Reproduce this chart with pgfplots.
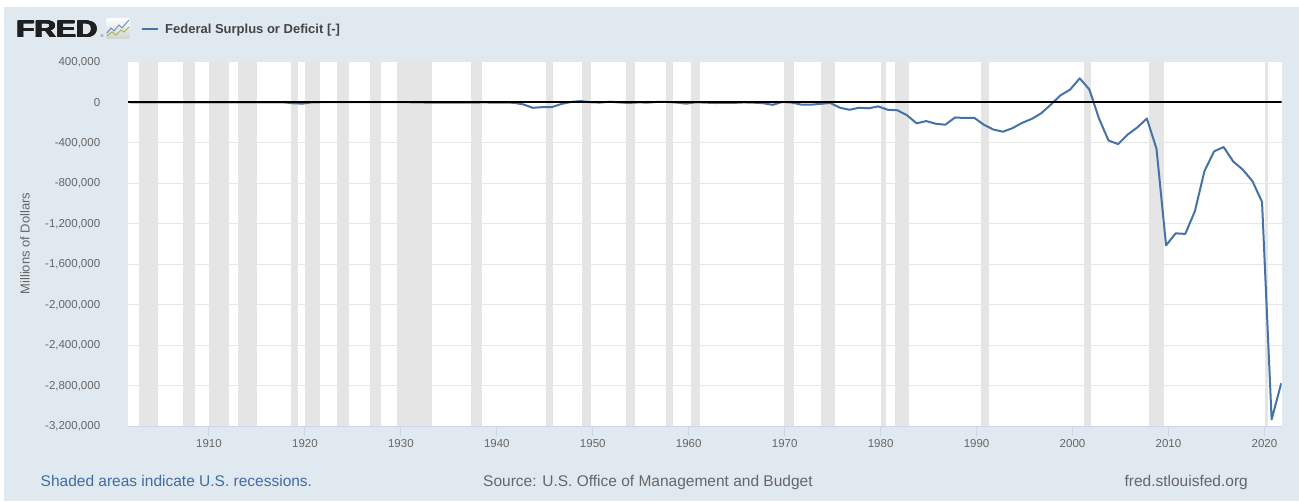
\documentclass[border=0pt]{standalone}
\usepackage{pgfplots}
\pgfplotsset{compat=1.18}
\usepackage{pgfplotstable}
\usepackage{graphicx}
\usepackage{fontspec}
\setmainfont{Liberation Sans}

\definecolor{fredbg}{HTML}{E1E9F0}
\definecolor{recgray}{HTML}{E5E5E5}
\definecolor{gridc}{HTML}{E6E6E6}
\definecolor{tickc}{HTML}{CCD6EB}
\definecolor{lblc}{HTML}{666666}
\definecolor{titlec}{HTML}{444444}
\definecolor{fredline}{HTML}{4572A7}
\definecolor{linkc}{HTML}{3E6DA6}
\definecolor{icongreen}{HTML}{8DBE4A}

% fiscal year, surplus (+) or deficit (-), millions of dollars
\pgfplotstableread{
year value
1901 63
1902 77
1903 45
1904 -43
1905 -23
1906 25
1907 87
1908 -57
1909 -89
1910 -18
1911 11
1912 3
1913 0
1914 0
1915 -63
1916 48
1917 -853
1918 -9032
1919 -13363
1920 291
1921 509
1922 736
1923 713
1924 963
1925 717
1926 865
1927 1155
1928 939
1929 734
1930 738
1931 -462
1932 -2735
1933 -2602
1934 -3630
1935 -2791
1936 -4425
1937 -2777
1938 -1177
1939 -3862
1940 -2920
1941 -4941
1942 -20503
1943 -54554
1944 -47557
1945 -47553
1946 -15936
1947 4018
1948 11796
1949 580
1950 -3119
1951 6102
1952 -1519
1953 -6493
1954 -1154
1955 -2993
1956 3947
1957 3412
1958 -2769
1959 -12849
1960 301
1961 -3335
1962 -7146
1963 -4756
1964 -5915
1965 -1411
1966 -3698
1967 -8643
1968 -25161
1969 3242
1970 -2842
1971 -23033
1972 -23373
1973 -14908
1974 -6135
1975 -53242
1976 -73732
1977 -53659
1978 -59185
1979 -40726
1980 -73830
1981 -78968
1982 -127977
1983 -207802
1984 -185367
1985 -212308
1986 -221227
1987 -149730
1988 -155178
1989 -152639
1990 -221036
1991 -269238
1992 -290321
1993 -255051
1994 -203186
1995 -163952
1996 -107431
1997 -21884
1998 69270
1999 125610
2000 236241
2001 128236
2002 -157758
2003 -377585
2004 -412727
2005 -318346
2006 -248181
2007 -160701
2008 -458553
2009 -1412688
2010 -1294373
2011 -1299599
2012 -1076573
2013 -679775
2014 -484602
2015 -441960
2016 -584651
2017 -665446
2018 -779137
2019 -983598
2020 -3132460
2021 -2775306
}\fyfsd

\begin{document}
\begin{tikzpicture}
\begin{scope}[x=1pt,y=1pt]
\useasboundingbox (0,0) rectangle (1299,501);
\fill[white] (0,0) rectangle (1299,501);
\fill[fredbg] (4,0) rectangle (1299,494);

% header: logo (text drawn a few times, slightly offset, to make it heavier) and legend
\foreach \dx/\dy in {0/0, 0.7/0, 1.4/0, 0/0.5, 0.7/0.5, 1.4/0.5}{
  \node[anchor=base west, inner sep=0, font=\fontsize{24}{24}\selectfont\bfseries, text=black!88]
    at (15.5+\dx,463+\dy) {\scalebox{1.24}[1]{FRED}};
}
\node[anchor=base west, inner sep=0, font=\fontsize{4}{4}\selectfont, text=black!70] at (100.5,463.5) {\textregistered};
\shade[top color=white, bottom color=black!18, rounded corners=2pt] (106,462) rectangle (130,483);
\draw[fredline!80, line width=0.9pt] (107,468) -- (111,473) -- (114,470) -- (119,476) -- (122,473) -- (129,481);
\draw[icongreen, line width=0.9pt] (107,465) -- (112,469) -- (116,466) -- (121,471) -- (124,469) -- (129,474);
\draw[fredline, line width=2pt] (141.7,472) -- (158.3,472);
\node[anchor=base west, inner sep=0, font=\fontsize{13}{13}\selectfont\bfseries, text=titlec]
  at (165,467.7) {Federal Surplus or Deficit [-]};
\end{scope}

\begin{axis}[
  at={(127.7pt,74.7pt)}, anchor=south west,
  scale only axis, width=1154pt, height=364.5pt,
  xmin=1901.53, xmax=2021.8,
  ymin=-3200000, ymax=400000,
  axis background/.style={fill=white},
  axis line style={draw=none},
  xtick={1910,1920,1930,1940,1950,1960,1970,1980,1990,2000,2010,2020},
  xtick pos=left,
  tick align=outside,
  major tick length=10pt,
  x tick style={color=tickc, line width=1pt},
  ytick={-3200000,-2800000,-2400000,-2000000,-1600000,-1200000,-800000,-400000,0,400000},
  yticklabels={{-3,200,000},{-2,800,000},{-2,400,000},{-2,000,000},{-1,600,000},{-1,200,000},{-800,000},{-400,000},{0},{400,000}},
  y tick style={draw=none},
  ymajorgrids,
  major grid style={gridc, line width=1pt},
  tick label style={font=\fontsize{11.5}{13}\selectfont, text=lblc},
  yticklabel style={xshift=-14pt},
  /pgf/number format/1000 sep={},
  /pgf/number format/assume math mode=true,
  scaled y ticks=false,
]
% NBER recessions (peak month to trough month)
\foreach \s/\e in {1902.67/1904.67, 1907.33/1908.5, 1910.0/1912.08, 1913.0/1915.0,
  1918.58/1919.25, 1920.0/1921.58, 1923.33/1924.58, 1926.75/1927.92, 1929.58/1933.25,
  1937.33/1938.5, 1945.08/1945.83, 1948.83/1949.83, 1953.5/1954.42, 1957.58/1958.33,
  1960.25/1961.17, 1969.92/1970.92, 1973.83/1975.25, 1980.0/1980.58, 1981.5/1982.92,
  1990.5/1991.25, 2001.17/2001.92, 2007.92/2009.5, 2020.08/2020.33}{
  \edef\temp{\noexpand\fill[recgray] (axis cs:\s,-3200000) rectangle (axis cs:\e,400000);}
  \temp
}
\addplot[fredline, line width=2pt, line join=round] table[x expr=\thisrow{year}+0.75, y=value] {\fyfsd};
\draw[black, line width=2pt] (axis cs:1901.53,0) -- (axis cs:2021.8,0);
\draw[tickc, line width=1pt] (rel axis cs:0,0) -- (rel axis cs:1,0);
\end{axis}

\begin{scope}[x=1pt,y=1pt]
\node[rotate=90, inner sep=0, font=\fontsize{13}{13}\selectfont, text=lblc] at (25,257.5) {Millions of Dollars};

% footer
\node[anchor=base west, inner sep=0, font=\fontsize{15.5}{16}\selectfont, text=linkc]
  at (40.5,15) {Shaded areas indicate U.S. recessions.};
\node[anchor=base west, inner sep=0, font=\fontsize{15.5}{16}\selectfont, text=lblc]
  at (483,15) {Source: U.S. Office of Management and Budget};
\node[anchor=base east, inner sep=0, font=\fontsize{15.5}{16}\selectfont, text=lblc]
  at (1248,15) {fred.stlouisfed.org};
\end{scope}
\end{tikzpicture}
\end{document}
